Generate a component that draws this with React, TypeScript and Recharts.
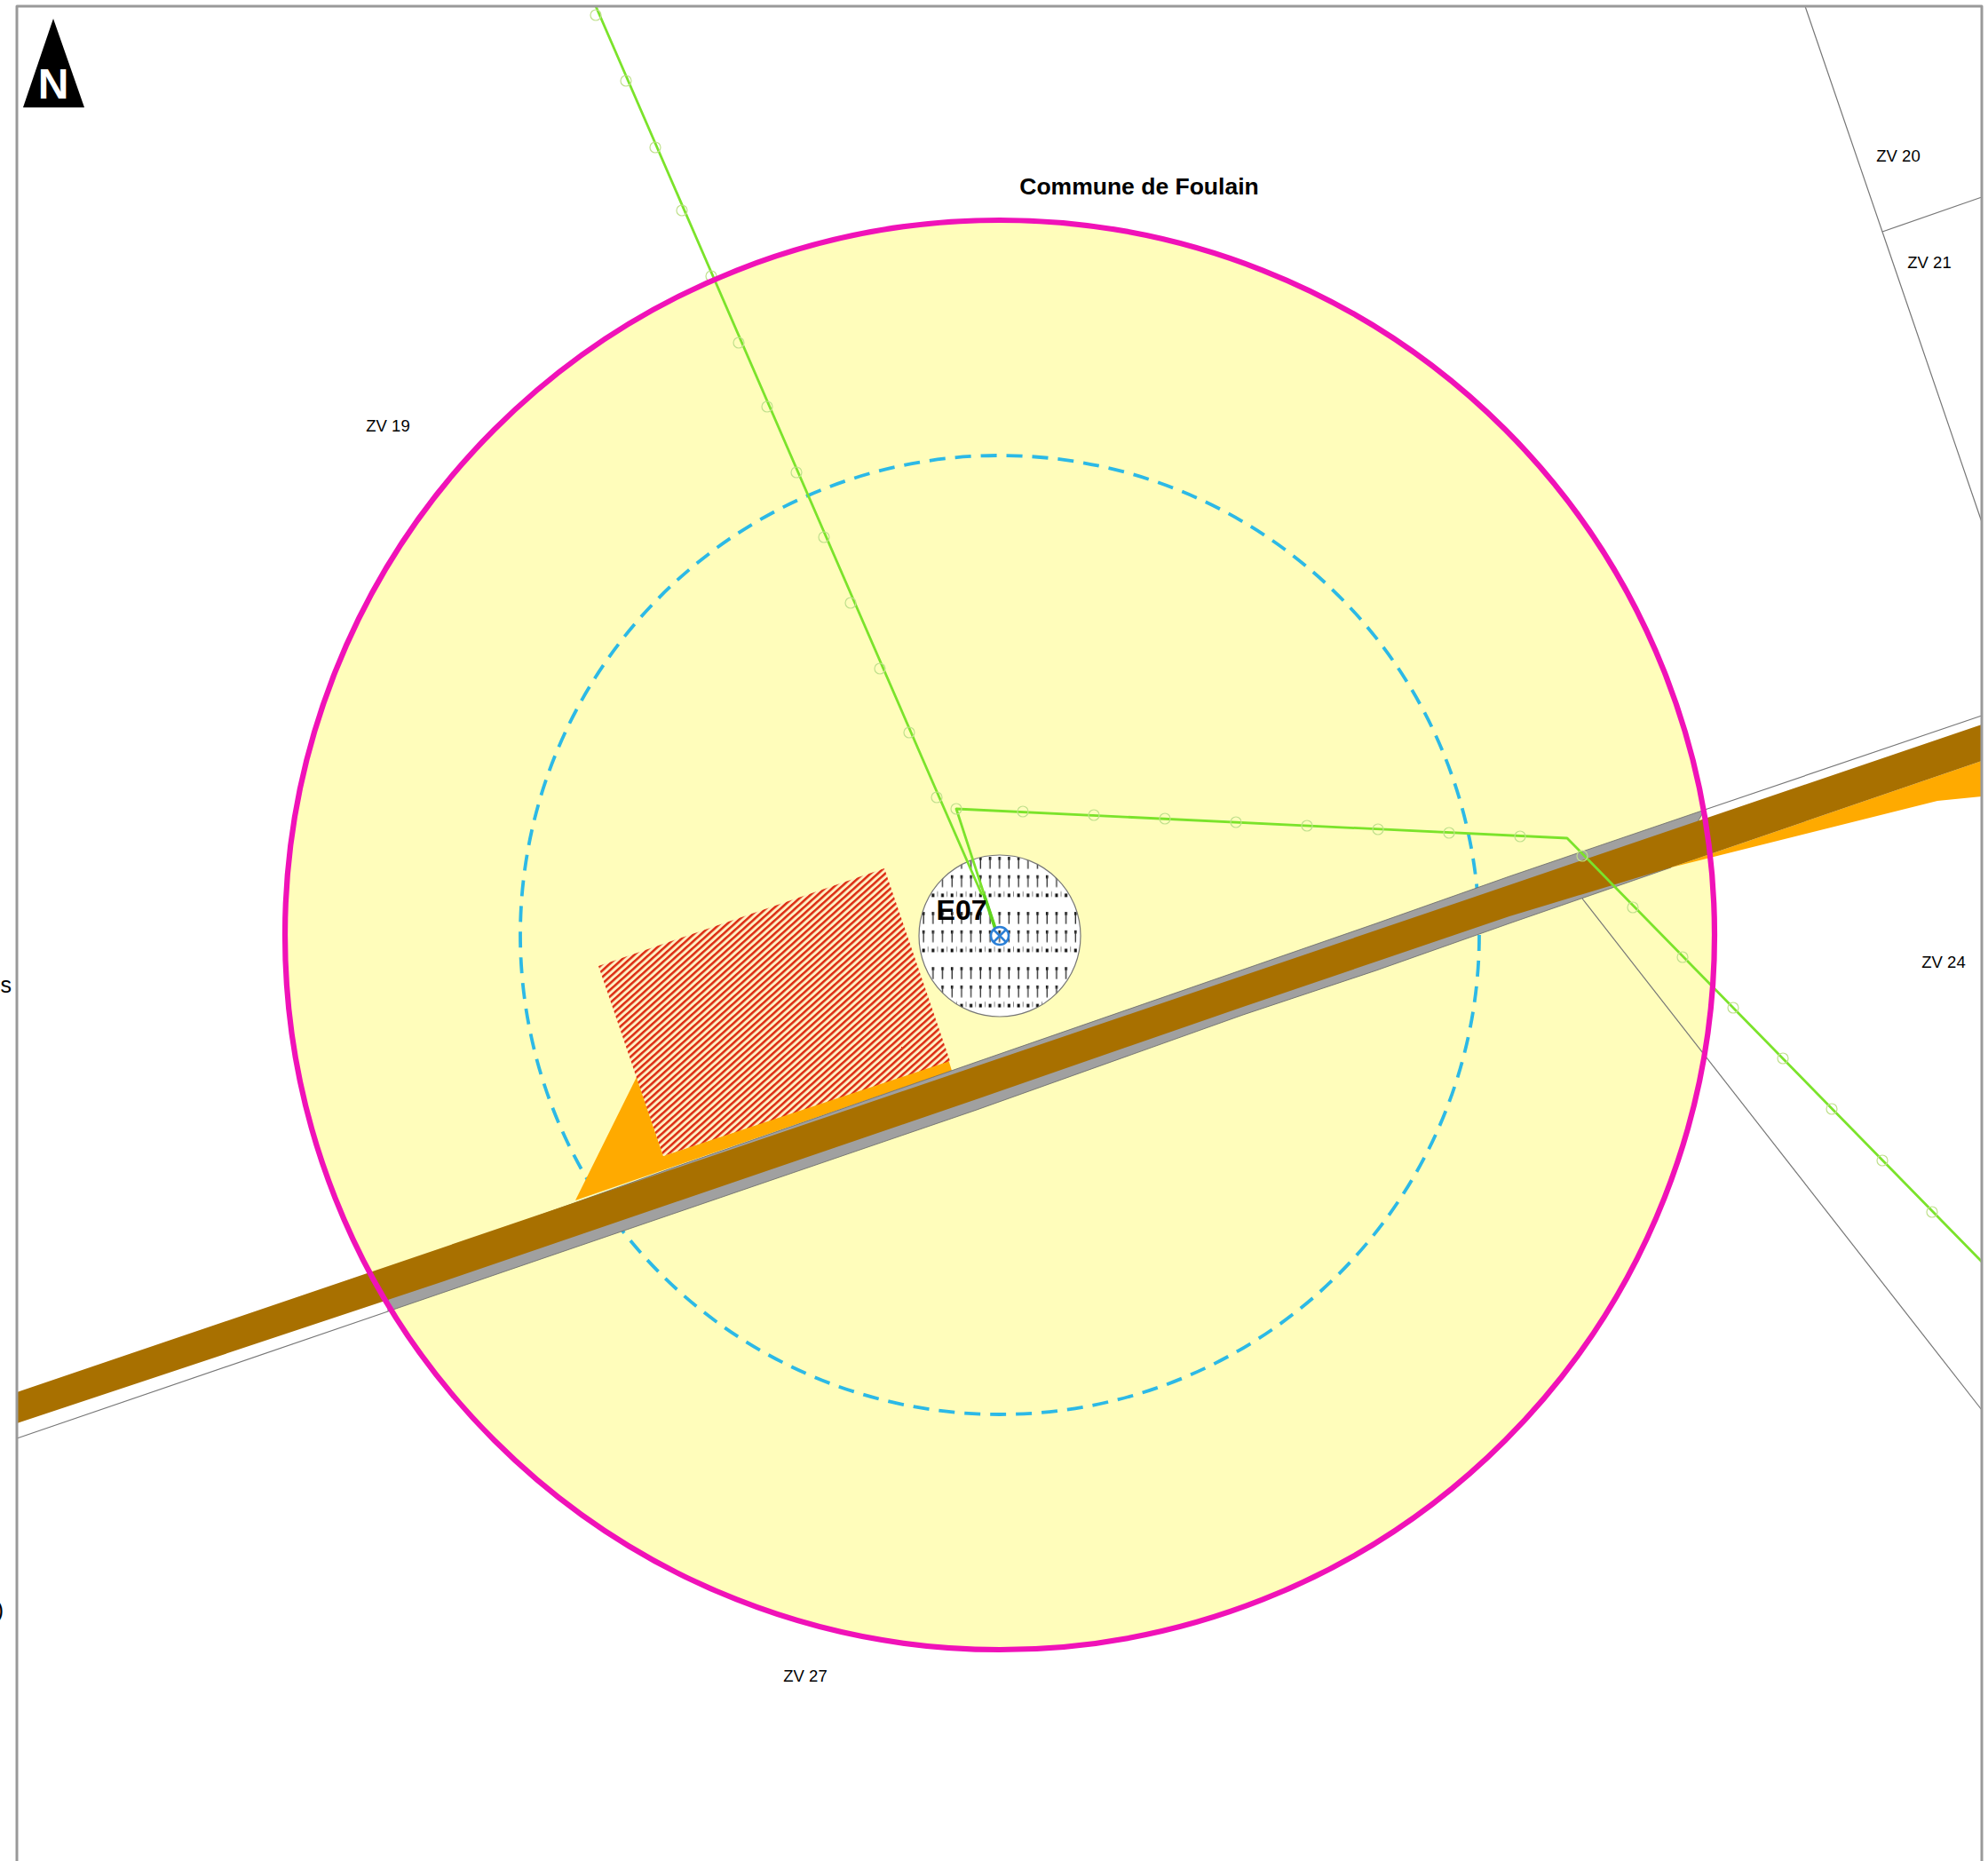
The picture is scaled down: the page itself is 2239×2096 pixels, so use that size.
import { Scatter, ScatterChart, XAxis, YAxis } from "recharts";

const WIDTH = 2239;
const HEIGHT = 2096;

const frame = [
  { x: 19, y: 2096 },
  { x: 19, y: 7 },
  { x: 2232, y: 7 },
  { x: 2232, y: 2096 },
];
const northArrow = [
  { x: 60, y: 21 },
  { x: 95, y: 121 },
  { x: 26, y: 121 },
];
const center = [{ x: 1126, y: 1053 }];
const turbine = [{ x: 1126, y: 1054 }];

const roadBrown = [
  { x: 19, y: 1568 },
  { x: 2232, y: 816 },
  { x: 2232, y: 857 },
  { x: 1882, y: 977 },
  { x: 1700, y: 1032 },
  { x: 1550, y: 1083 },
  { x: 1400, y: 1134 },
  { x: 1100, y: 1238 },
  { x: 500, y: 1443 },
  { x: 19, y: 1603 },
];
const roadGrey = [
  { x: 437, y: 1477 },
  { x: 1100, y: 1250 },
  { x: 1400, y: 1143 },
  { x: 1550, y: 1093 },
  { x: 1700, y: 1040 },
  { x: 1882, y: 977 },
  { x: 1920, y: 912 },
  { x: 1700, y: 987 },
  { x: 1550, y: 1040 },
  { x: 1400, y: 1092 },
  { x: 1100, y: 1196 },
  { x: 750, y: 1318 },
  { x: 437, y: 1430 },
];
const orangeLeft = [
  { x: 717, y: 1213 },
  { x: 648, y: 1352 },
  { x: 1072, y: 1206 },
  { x: 1068, y: 1193 },
  { x: 747, y: 1302 },
];
const orangeRight = [
  { x: 1882, y: 977 },
  { x: 2232, y: 857 },
  { x: 2232, y: 897 },
  { x: 2182, y: 902 },
];
const hatchedParcel = [
  { x: 674, y: 1088 },
  { x: 996, y: 978 },
  { x: 1070, y: 1195 },
  { x: 747, y: 1302 },
];

const parcelLines = [
  [
    { x: 19, y: 1620 },
    { x: 437, y: 1477 },
  ],
  [
    { x: 1920, y: 912 },
    { x: 2232, y: 806 },
  ],
  [
    { x: 1782, y: 1012 },
    { x: 2232, y: 1588 },
  ],
  [
    { x: 2033, y: 7 },
    { x: 2120, y: 261 },
    { x: 2232, y: 588 },
  ],
  [
    { x: 2120, y: 261 },
    { x: 2232, y: 222 },
  ],
];

const cableA = [
  { x: 671, y: 7 },
  { x: 1050, y: 880 },
  { x: 1106, y: 1008 },
];
const cableB = [
  { x: 1120, y: 1043 },
  { x: 1077, y: 911 },
  { x: 1765, y: 944 },
  { x: 2232, y: 1421 },
];
const cableEnd = [
  { x: 1108, y: 1007 },
  { x: 1121, y: 1046 },
];
const cableMarks = [
  { x: 671, y: 17 }, { x: 705, y: 91 }, { x: 738, y: 166 }, { x: 768, y: 237 },
  { x: 801, y: 311 }, { x: 832, y: 386 }, { x: 864, y: 458 }, { x: 897, y: 532 },
  { x: 928, y: 605 }, { x: 958, y: 679 }, { x: 991, y: 753 }, { x: 1024, y: 825 },
  { x: 1055, y: 898 }, { x: 1077, y: 911 }, { x: 1152, y: 914 }, { x: 1232, y: 918 },
  { x: 1312, y: 922 }, { x: 1392, y: 926 }, { x: 1472, y: 930 }, { x: 1552, y: 934 },
  { x: 1632, y: 938 }, { x: 1712, y: 942 }, { x: 1782, y: 964 }, { x: 1839, y: 1022 },
  { x: 1895, y: 1078 }, { x: 1952, y: 1135 }, { x: 2008, y: 1192 }, { x: 2063, y: 1249 },
  { x: 2120, y: 1307 }, { x: 2176, y: 1365 },
];

const parcelLabels = [
  { x: 437, y: 486, name: "ZV 19" },
  { x: 2138, y: 182, name: "ZV 20" },
  { x: 2173, y: 302, name: "ZV 21" },
  { x: 2189, y: 1090, name: "ZV 24" },
  { x: 907, y: 1894, name: "ZV 27" },
];
const communeLabel = [{ x: 1283, y: 219, name: "Commune de Foulain" }];
const turbineLabel = [{ x: 1083, y: 1036, name: "E07" }];
const northLabel = [{ x: 60, y: 111, name: "N" }];
const cutLabels = [
  { x: 13, y: 1118, name: "s" },
  { x: 4, y: 1822, name: ")" },
];

const FONT = '"Liberation Sans", Arial, sans-serif';

type Pt = { x: number; y: number };

const NoPoint = () => <g />;

const pathOf = (pts: Pt[], closed: boolean) =>
  pts.map((p, i) => `${i ? "L" : "M"}${p.x},${p.y}`).join(" ") + (closed ? " Z" : "");

// closed or open outline, drawn from the points the scatter has already scaled
function outline(data: Pt[], fill: string, stroke = "none", strokeWidth = 1, closed = true) {
  return (
    <Scatter
      data={data}
      isAnimationActive={false}
      shape={NoPoint}
      line={(props: any) => (
        <path
          d={pathOf(props.points, closed)}
          fill={fill}
          stroke={stroke}
          strokeWidth={strokeWidth}
          strokeLinejoin="round"
        />
      )}
    />
  );
}

// the domain maps 1:1 on the pixels, so r is in map units as well
function disc(data: Pt[], r: number, style: Record<string, any>) {
  return (
    <Scatter
      data={data}
      isAnimationActive={false}
      shape={(p: any) => <circle cx={p.cx} cy={p.cy} r={r} {...style} />}
    />
  );
}

function labels(data: (Pt & { name: string })[], style: Record<string, any>) {
  return (
    <Scatter
      data={data}
      isAnimationActive={false}
      shape={(p: any) => (
        <text x={p.cx} y={p.cy} fontFamily={FONT} {...style}>
          {p.name}
        </text>
      )}
    />
  );
}

const TurbineMark = (p: any) => (
  <g fill="none" stroke="#2b7fd6" strokeWidth={2.5}>
    <circle cx={p.cx} cy={p.cy} r={10} />
    <path d={`M${p.cx - 7},${p.cy - 7} L${p.cx + 7},${p.cy + 7} M${p.cx + 7},${p.cy - 7} L${p.cx - 7},${p.cy + 7}`} />
  </g>
);

export default function App() {
  return (
    <div style={{ position: "absolute", left: 0, top: 0, background: "#fff" }}>
      <ScatterChart width={WIDTH} height={HEIGHT} margin={{ top: 0, right: 0, bottom: 0, left: 0 }}>
        <defs>
          <pattern id="hatch" width="5.5" height="5.5" patternUnits="userSpaceOnUse" patternTransform="rotate(-42)">
            <rect width="5.5" height="5.5" fill="#fff0c4" />
            <rect width="5.5" height="2.5" fill="#dc2a10" />
          </pattern>
          <pattern id="dashes" x="1035" y="965" width="10.7" height="62.1" patternUnits="userSpaceOnUse">
            <rect width="10.7" height="62.1" fill="#fff" />
            <rect x="3.8" y="0" width="2.6" height="3.6" fill="#111" />
            <rect x="4.5" y="0" width="1.3" height="13.5" fill="#222" />
            <rect x="3.8" y="20.7" width="2.6" height="3.6" fill="#111" />
            <rect x="4.5" y="20.7" width="1.3" height="13.5" fill="#333" />
            <rect x="3.6" y="41.4" width="3" height="4" fill="#111" />
            <rect x="9.8" y="39" width="1" height="6" fill="#777" />
          </pattern>
        </defs>
        <XAxis type="number" dataKey="x" domain={[0, WIDTH]} hide />
        <YAxis type="number" dataKey="y" domain={[0, HEIGHT]} reversed hide />

        {disc(center, 805, { fill: "#fffdbb" })}
        {disc(center, 540, {
          fill: "none",
          stroke: "#2cb9e6",
          strokeWidth: 3.8,
          strokeDasharray: "18 11",
        })}

        {parcelLines.map((line) => outline(line, "none", "#777", 1.2, false))}

        {outline(orangeLeft, "#ffaa00")}
        {outline(orangeRight, "#ffaa00")}
        {outline(hatchedParcel, "url(#hatch)")}
        {outline(roadGrey, "#a0a0a0", "#666", 0.8)}
        {outline(roadBrown, "#a87000")}

        {disc(turbine, 91, { fill: "url(#dashes)", stroke: "#777", strokeWidth: 1.2 })}

        {outline(cableA, "none", "#7be32b", 2.8, false)}
        {outline(cableB, "none", "#7be32b", 2.8, false)}
        {outline(cableEnd, "none", "#5fd41f", 3.8, false)}
        {disc(cableMarks, 6, { fill: "none", stroke: "#bfe08c", strokeWidth: 1.2 })}

        <Scatter data={turbine} isAnimationActive={false} shape={TurbineMark} />

        {disc(center, 805, { fill: "none", stroke: "#f012b8", strokeWidth: 6.2 })}

        {outline(frame, "none", "#999", 3, false)}
        {outline(northArrow, "#000")}

        {labels(northLabel, { fontSize: 48, fontWeight: 700, fill: "#fff", textAnchor: "middle" })}
        {labels(parcelLabels, { fontSize: 18.5, fill: "#000", textAnchor: "middle" })}
        {labels(communeLabel, { fontSize: 26.5, fontWeight: 700, fill: "#000", textAnchor: "middle" })}
        {labels(turbineLabel, { fontSize: 32, fontWeight: 700, fill: "#000", textAnchor: "middle" })}
        {labels(cutLabels, { fontSize: 25, fill: "#000", textAnchor: "end" })}
      </ScatterChart>
    </div>
  );
}
